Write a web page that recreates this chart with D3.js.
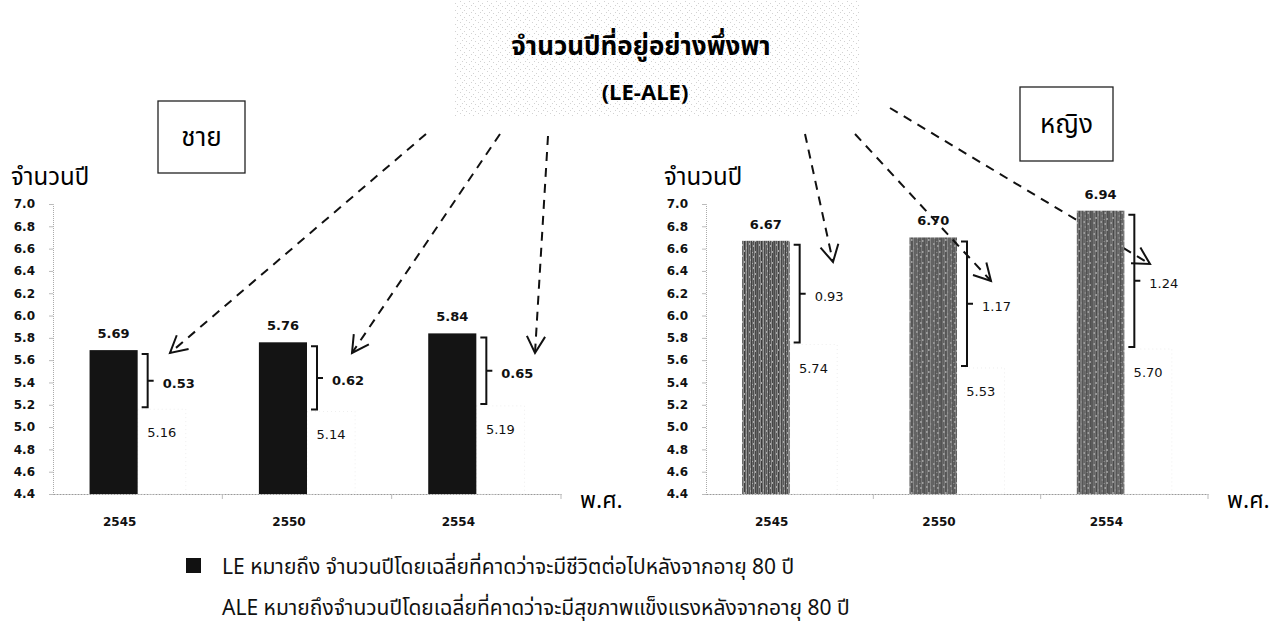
<!DOCTYPE html>
<html>
<head>
<meta charset="utf-8">
<script src="https://cdn.jsdelivr.net/npm/d3@7"></script>
<style>
  body { margin: 0; background: #fff; }
  svg text { font-family: "DejaVu Sans", Verdana, sans-serif; }
  .thai { font-family: "Noto Sans Thai", "Noto Sans", Tahoma, sans-serif; }
</style>
</head>
<body>
<div id="chart"></div>
<script>
// data
var years = ["2545", "2550", "2554"];
var maleLE = [5.69, 5.76, 5.84];
var maleALE = [5.16, 5.14, 5.19];
var femaleLE = [6.67, 6.70, 6.94];
var femaleALE = [5.74, 5.53, 5.70];
var yTicks = [4.4, 4.6, 4.8, 5.0, 5.2, 5.4, 5.6, 5.8, 6.0, 6.2, 6.4, 6.6, 6.8, 7.0];
var series = ["LE", "ALE"];

var width = 1282, height = 632;

var svg = d3.select("#chart").append("svg")
    .attr("width", width)
    .attr("height", height);

var defs = svg.append("defs");

// speckled box behind the title
var pat = defs.append("pattern")
    .attr("id", "speckle")
    .attr("width", 9).attr("height", 7)
    .attr("patternUnits", "userSpaceOnUse");
[[1,1],[5,3],[3,5],[7,6]].forEach(function(p){
  pat.append("rect").attr("x", p[0]).attr("y", p[1]).attr("width", 1).attr("height", 1).attr("fill", "#d2d2d2");
});

// streaky grey texture for the female bars
var tex = defs.append("pattern")
    .attr("id", "streaks")
    .attr("width", 17).attr("height", 11)
    .attr("patternUnits", "userSpaceOnUse");
var streakGreys = ["#4a4a4a", "#7a7a7a", "#555", "#8a8a8a", "#3c3c3c", "#686868",
                   "#959595", "#484848", "#727272", "#5a5a5a", "#838383", "#404040",
                   "#6e6e6e", "#505050", "#8e8e8e", "#464646", "#646464"];
streakGreys.forEach(function(c, i){
  tex.append("rect").attr("x", i).attr("y", 0).attr("width", 1).attr("height", 11).attr("fill", c);
});
[[2,2],[6,5],[9,1],[4,8],[10,6],[13,3],[15,9],[12,10]].forEach(function(p){
  tex.append("rect").attr("x", p[0]).attr("y", p[1]).attr("width", 1).attr("height", 2).attr("fill", "#aaa");
});

svg.append("rect")
    .attr("x", 455).attr("y", 0)
    .attr("width", 405).attr("height", 116)
    .attr("fill", "url(#speckle)");

svg.append("text")
    .attr("class", "thai")
    .attr("x", 641).attr("y", 55)
    .attr("text-anchor", "middle")
    .style("font-size", "26px")
    .style("font-weight", "bold")
    .text("จำนวนปีที่อยู่อย่างพึ่งพา");

svg.append("text")
    .attr("class", "thai")
    .attr("x", 645).attr("y", 100)
    .attr("text-anchor", "middle")
    .style("font-size", "22px")
    .style("font-weight", "bold")
    .text("(LE-ALE)");

// sex boxes
function labelBox(x, y, w, h, txt) {
  svg.append("rect")
      .attr("x", x).attr("y", y)
      .attr("width", w).attr("height", h)
      .attr("fill", "#fff")
      .attr("stroke", "#222")
      .attr("stroke-width", 1.3);
  svg.append("text")
      .attr("class", "thai")
      .attr("x", x + w / 2).attr("y", y + h / 2 + 9)
      .attr("text-anchor", "middle")
      .style("font-size", "26px")
      .text(txt);
}
labelBox(158, 101, 87, 72, "ชาย");
labelBox(1020, 87, 93, 74, "หญิง");

var y = d3.scaleLinear().domain([4.4, 7.0]).range([494, 204]);

var arrowLayer = svg.append("g");
var panelLayer = svg.append("g");
var topLayer = svg.append("g");

function drawArrow(layer, x1, y1, x2, y2) {
  layer.append("line")
      .attr("x1", x1).attr("y1", y1)
      .attr("x2", x2).attr("y2", y2)
      .attr("stroke", "#111")
      .attr("stroke-width", 2)
      .attr("stroke-dasharray", "9,7");
  var a = Math.atan2(y2 - y1, x2 - x1);
  var len = 19, spread = 0.5;
  var pts = [
    [x2 - len * Math.cos(a - spread), y2 - len * Math.sin(a - spread)],
    [x2, y2],
    [x2 - len * Math.cos(a + spread), y2 - len * Math.sin(a + spread)]
  ];
  layer.append("path")
      .attr("d", d3.line()(pts))
      .attr("fill", "none")
      .attr("stroke", "#111")
      .attr("stroke-width", 2);
}

function drawPanel(x0range, le, ale, barFill, boldDiff) {
  var g = panelLayer.append("g");

  var x0 = d3.scaleBand().domain(years).range(x0range).padding(0);
  var x1 = d3.scaleBand().domain(series).range([0, x0.bandwidth()])
      .paddingInner(0).paddingOuter(0.76);

  var rows = years.map(function(yr, i) {
    return { year: yr, LE: le[i], ALE: ale[i] };
  });

  // y axis
  var yAxis = d3.axisLeft(y).tickValues(yTicks).tickSize(4).tickPadding(14)
      .tickFormat(d3.format(".1f"));
  var ya = g.append("g")
      .attr("transform", "translate(" + x0range[0] + ",0)")
      .call(yAxis);
  ya.select(".domain").attr("stroke", "#aaa").attr("stroke-dasharray", "1,1");
  ya.selectAll(".tick line").attr("stroke", "#bbb");
  ya.selectAll(".tick text")
      .attr("fill", "#111")
      .style("font-size", "12px")
      .style("font-weight", "bold")
      .style("font-family", "'DejaVu Sans', Verdana, sans-serif");

  // x axis
  var xAxis = d3.axisBottom(x0).tickSize(0).tickFormat("");
  var xa = g.append("g")
      .attr("transform", "translate(0," + y(4.4) + ")")
      .call(xAxis);
  xa.select(".domain").attr("stroke", "#999").attr("stroke-dasharray", "2,1");
  xa.selectAll(".tick").remove();
  // category separators
  g.selectAll(".sep")
      .data(years)
      .enter().append("line")
      .attr("x1", function(d) { return x0(d) + x0.step(); })
      .attr("x2", function(d) { return x0(d) + x0.step(); })
      .attr("y1", y(4.4)).attr("y2", y(4.4) + 5)
      .attr("stroke", "#bbb");

  g.selectAll(".xlab")
      .data(years)
      .enter().append("text")
      .attr("x", function(d) { return x0(d) + x0.bandwidth() / 2 - 18; })
      .attr("y", 526)
      .attr("text-anchor", "middle")
      .style("font-size", "12px")
      .style("font-weight", "bold")
      .attr("fill", "#111")
      .text(function(d) { return d; });

  // bars
  var grp = g.selectAll(".grp")
      .data(rows)
      .enter().append("g")
      .attr("transform", function(d) { return "translate(" + x0(d.year) + ",0)"; });

  grp.append("rect")
      .attr("x", x1("ALE"))
      .attr("y", function(d) { return y(d.ALE); })
      .attr("width", x1.bandwidth())
      .attr("height", function(d) { return y(4.4) - y(d.ALE); })
      .attr("fill", "#fff")
      .attr("stroke", "#eee")
      .attr("stroke-dasharray", "1,3");

  grp.append("rect")
      .attr("x", x1("LE"))
      .attr("y", function(d) { return y(d.LE); })
      .attr("width", x1.bandwidth())
      .attr("height", function(d) { return y(4.4) - y(d.LE); })
      .attr("fill", barFill);

  // LE value above bar
  grp.append("text")
      .attr("x", x1("LE") + x1.bandwidth() / 2)
      .attr("y", function(d) { return y(d.LE) - 12; })
      .attr("text-anchor", "middle")
      .style("font-size", "13px")
      .style("font-weight", "bold")
      .attr("fill", "#111")
      .text(function(d) { return d.LE.toFixed(2); });

  // ALE value inside top of white bar
  grp.append("text")
      .attr("x", x1("ALE") + x1.bandwidth() / 2)
      .attr("y", function(d) { return y(d.ALE) + 28; })
      .attr("text-anchor", "middle")
      .style("font-size", "13px")
      .attr("fill", "#111")
      .text(function(d) { return d.ALE.toFixed(2); });

  // bracket showing LE - ALE
  var bx = x1("LE") + x1.bandwidth() + 10;
  grp.append("path")
      .attr("d", function(d) {
        var t = y(d.LE) + 4, b = y(d.ALE) - 2, m = (t + b) / 2;
        return "M" + (bx - 6) + "," + t + "H" + bx + "V" + b + "H" + (bx - 6) +
               "M" + bx + "," + m + "H" + (bx + 6);
      })
      .attr("fill", "none")
      .attr("stroke", "#111")
      .attr("stroke-width", 2);

  grp.append("text")
      .attr("x", bx + 15)
      .attr("y", function(d) { return (y(d.LE) + y(d.ALE)) / 2 + 8; })
      .style("font-size", "13px")
      .style("font-weight", boldDiff ? "bold" : "normal")
      .attr("fill", "#111")
      .text(function(d) { return (d.LE - d.ALE).toFixed(2); });

  // axis titles
  g.append("text")
      .attr("class", "thai")
      .attr("x", x0range[0] - 42).attr("y", 185)
      .style("font-size", "24px")
      .text("จำนวนปี");

  g.append("text")
      .attr("class", "thai")
      .attr("x", x0range[1] + 19).attr("y", 508)
      .style("font-size", "23px")
      .text("พ.ศ.");
}

drawPanel([53, 561], maleLE, maleALE, "#141414", true);
drawPanel([706, 1208], femaleLE, femaleALE, "url(#streaks)", false);

// dashed arrows from the title to each bar pair
drawArrow(arrowLayer, 890, 108, 1150, 264);
drawArrow(topLayer, 426, 134, 170, 353);
drawArrow(topLayer, 500, 134, 352, 353);
drawArrow(topLayer, 548, 136, 535, 353);
drawArrow(topLayer, 805, 134, 833, 262);
drawArrow(topLayer, 855, 134, 991, 281);

// legend
var legendRows = [
  { fill: "#111", text: "LE หมายถึง จำนวนปีโดยเฉลี่ยที่คาดว่าจะมีชีวิตต่อไปหลังจากอายุ 80 ปี" },
  { fill: "#fff", text: "ALE หมายถึงจำนวนปีโดยเฉลี่ยที่คาดว่าจะมีสุขภาพแข็งแรงหลังจากอายุ 80 ปี" }
];
var lg = svg.selectAll(".legend")
    .data(legendRows)
    .enter().append("g")
    .attr("transform", function(d, i) { return "translate(186," + (558 + i * 41) + ")"; });
lg.append("rect")
    .attr("width", 15).attr("height", 15)
    .attr("fill", function(d) { return d.fill; });
lg.append("text")
    .attr("class", "thai")
    .attr("x", 36).attr("y", 16)
    .style("font-size", "21px")
    .attr("fill", "#111")
    .text(function(d) { return d.text; });
</script>
</body>
</html>
